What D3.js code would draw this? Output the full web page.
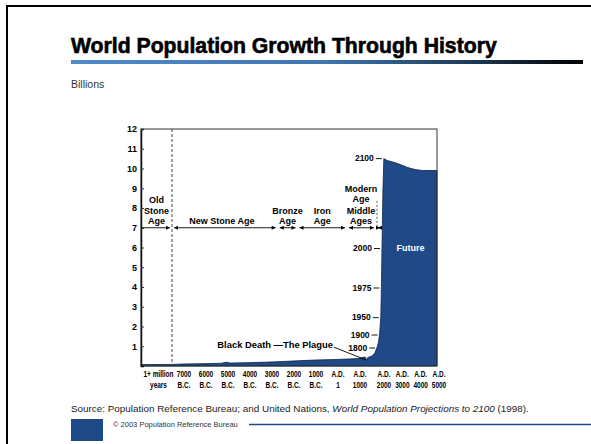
<!DOCTYPE html>
<html><head><meta charset="utf-8">
<script src="https://cdn.jsdelivr.net/npm/d3@7"></script>
<style>
body{margin:0;background:#fff}
svg{display:block;font-family:"Liberation Sans",Arial,Helvetica,sans-serif}
</style></head><body>
<svg id="c" width="591" height="444"></svg>
<script>
// ---------- data ----------
const yTickValues = [1,2,3,4,5,6,7,8,9,10,11,12];
const xTickYears  = [-9000,-7000,-6000,-5000,-4000,-3000,-2000,-1000,1,1000,2000,3000,4000,5000];
const xTickLine1  = ["1+ million","7000","6000","5000","4000","3000","2000","1000","A.D.","A.D.","A.D.","A.D.","A.D.","A.D."];
const xTickLine2  = ["years","B.C.","B.C.","B.C.","B.C.","B.C.","B.C.","B.C.","1","1000","2000","3000","4000","5000"];

const popYears  = [-10000,-8000,-7000,-6000,-5200,-5000,-4800,-4000,-3000,-2000,-1000,1,500,1000,1300,1350,1400,1600,1700,1800,1850,1900,1950,1975,2000,2050,2100,2300,2700,3000,3400,3800,4200,5000];
const popValues = [0.07,0.08,0.10,0.12,0.14,0.19,0.15,0.17,0.20,0.25,0.30,0.33,0.35,0.38,0.46,0.30,0.42,0.52,0.66,0.96,1.2,1.62,2.5,4.0,6.0,8.9,10.5,10.4,10.3,10.2,10.05,9.95,9.9,9.9];

const markYears  = [1800,1900,1950,1975,2000,2100];
const markValues = [0.96,1.62,2.5,4.0,6.0,10.55];

const eraNames  = ["Old Stone Age","New Stone Age","Bronze Age","Iron Age","Middle Ages","Modern Age"];
const eraLines  = [["Old","Stone","Age"],["New Stone Age"],["Bronze","Age"],["Iron","Age"],["Middle","Ages"],["Modern","Age"]];
const eraStarts = [-10000,-8000,-2650,-1750,500,1750];
const eraEnds   = [-8000,-2650,-1750,500,1750,2000];
const eraLevel  = 7;

const plagueYear = 1350;

// ---------- layout ----------
const svg = d3.select("#c");
const L = 141, T = 129, W = 296, H = 237;
const blue = "#1f4a87";

// page border
svg.append("path").attr("d","M7,444V6H591").attr("fill","none").attr("stroke","#000").attr("stroke-width",2);

// title
svg.append("text").attr("x",71).attr("y",53).attr("font-size",21.2).attr("font-weight","bold")
  .attr("fill","#000").attr("stroke","#000").attr("stroke-width",0.6)
  .text("World Population Growth Through History");
const defs = svg.append("defs");
const lg = defs.append("linearGradient").attr("id","tg");
[[0,"#4f8aca"],[0.5,"#3f76b0"],[0.8,"#1c3550"],[1,"#000"]].forEach(s=>lg.append("stop").attr("offset",s[0]).attr("stop-color",s[1]));
svg.append("rect").attr("x",71).attr("y",60).attr("width",512).attr("height",4).attr("fill","url(#tg)");

svg.append("text").attr("x",71).attr("y",88).attr("font-size",10.5).attr("fill","#333").text("Billions");

// scales
const x = d3.scaleLinear().domain([-10000,-8000,-7000,1000,2000,5000]).range([0,31,41,217,241,296]);
const y = d3.scaleLinear().domain([0,12]).range([H,0]);

const g = svg.append("g").attr("transform",`translate(${L},${T})`);

// area
const area = d3.area().x((d,i)=>x(popYears[i])).y0(y(0)).y1(d=>y(d)).curve(d3.curveLinear);
g.append("path").datum(popValues).attr("d",area).attr("fill",blue).attr("stroke","#0d2446").attr("stroke-width",0.8);

// frame
g.append("rect").attr("width",W).attr("height",H).attr("fill","none").attr("stroke","#333").attr("stroke-width",1);

// y axis
const ya = g.append("g").call(d3.axisLeft(y).tickValues(yTickValues).tickSize(-3).tickPadding(4));
ya.select(".domain").attr("stroke","#111").attr("stroke-width",1.5);
ya.selectAll(".tick line").attr("stroke","#333");
ya.selectAll(".tick text").attr("font-size",9).attr("font-weight","bold").attr("fill","#000").attr("font-family","Liberation Sans,Arial,sans-serif");

// x axis
const xa = g.append("g").attr("transform",`translate(0,${H})`)
  .call(d3.axisBottom(x).tickValues(xTickYears).tickSize(0).tickPadding(5).tickFormat(""));
xa.select(".domain").remove();
xa.selectAll(".tick text").each(function(d,i){
  const t = d3.select(this).attr("font-size",9).attr("font-weight","bold").attr("fill","#000")
    .attr("font-family","Liberation Sans,Arial,sans-serif").attr("dy","0.71em")
    .attr("transform","translate(1.5,0) scale(0.72,1)");
  t.append("tspan").attr("x",0).text(xTickLine1[i]);
  t.append("tspan").attr("x",0).attr("dy","1.15em").text(xTickLine2[i]);
});

// dashed line at 8000 BC
g.append("line").attr("x1",x(-8000)).attr("x2",x(-8000)).attr("y1",0).attr("y2",H)
  .attr("stroke","#333").attr("stroke-dasharray","3,2").attr("stroke-width",0.9);

// era timeline
defs.append("marker").attr("id","ah").attr("viewBox","0 0 10 10").attr("refX",10).attr("refY",5)
  .attr("markerWidth",5).attr("markerHeight",4).attr("orient","auto-start-reverse").attr("markerUnits","userSpaceOnUse")
  .append("path").attr("d","M0,0L10,5L0,10z").attr("fill","#000");
const ey = y(eraLevel);
eraNames.forEach((n,i)=>{
  const x1 = x(eraStarts[i]) + (i===0?0:2), x2 = x(eraEnds[i]) - 2;
  const ln = g.append("line").attr("x1",x1).attr("x2",x2).attr("y1",ey).attr("y2",ey).attr("stroke","#000").attr("stroke-width",0.9)
    .attr("marker-end","url(#ah)");
  if(i>0) ln.attr("marker-start","url(#ah)");
});
// small dashed boundary Middle/Modern
g.append("line").attr("x1",x(eraStarts[5])+1).attr("x2",x(eraStarts[5])+1).attr("y1",ey-27).attr("y2",ey)
  .attr("stroke","#333").attr("stroke-dasharray","2,2").attr("stroke-width",0.8);

// era labels
const lh = 10.5;
eraNames.forEach((n,i)=>{
  let cx = x((eraStarts[i]+eraEnds[i])/2);
  let base = ey - 3.5;
  if(n==="Modern Age"){ cx = x((eraStarts[4]+eraEnds[4])/2); base = ey - 3.5 - 2*lh - 1; }
  if(n==="New Stone Age") cx += 3;
  const lines = eraLines[i];
  lines.forEach((s,j)=>{
    g.append("text").attr("x",cx).attr("y",base - (lines.length-1-j)*lh).attr("text-anchor","middle")
      .attr("font-size",9).attr("font-weight","bold").attr("fill","#000").text(s);
  });
});

// year markers on spike
markYears.forEach((yr,i)=>{
  const px = x(yr), py = y(markValues[i]);
  g.append("line").attr("x1",px-8).attr("x2",px-2).attr("y1",py+1).attr("y2",py+1).attr("stroke","#000").attr("stroke-width",0.9);
  g.append("text").attr("x",px-10).attr("y",py+3.5).attr("text-anchor","end").attr("font-size",8.5).attr("font-weight","bold").attr("fill","#000").text(yr);
});

// Future label
g.append("text").attr("x",(x(2000)+W)/2+1).attr("y",y(6)+3).attr("text-anchor","middle").attr("font-size",9).attr("font-weight","bold").attr("fill","#fff").text("Future");

// Black death annotation
const px0 = x(1000) - 25;
g.append("text").attr("x",px0).attr("y",y(0.9)).attr("text-anchor","end").attr("font-size",9.4).attr("font-weight","bold").attr("fill","#000").text("Black Death —The Plague");
g.append("line").attr("x1",px0+1).attr("y1",y(0.95)).attr("x2",x(plagueYear)).attr("y2",y(popValues[popYears.indexOf(plagueYear)]))
  .attr("stroke","#000").attr("stroke-width",0.9);

// source
const src = svg.append("text").attr("x",71).attr("y",412).attr("font-size",9.9).attr("fill","#222");
src.append("tspan").text("Source: Population Reference Bureau; and United Nations, ");
src.append("tspan").attr("font-style","italic").text("World Population Projections to 2100");
src.append("tspan").text(" (1998).");

// footer
svg.append("rect").attr("x",71).attr("y",419).attr("width",32).attr("height",22).attr("fill",blue);
svg.append("text").attr("x",113).attr("y",427).attr("font-size",7.5).attr("fill","#333").text("© 2003 Population Reference Bureau");
svg.append("line").attr("x1",249).attr("x2",591).attr("y1",424.5).attr("y2",424.5).attr("stroke",blue).attr("stroke-width",1.5);
</script>
</body></html>
